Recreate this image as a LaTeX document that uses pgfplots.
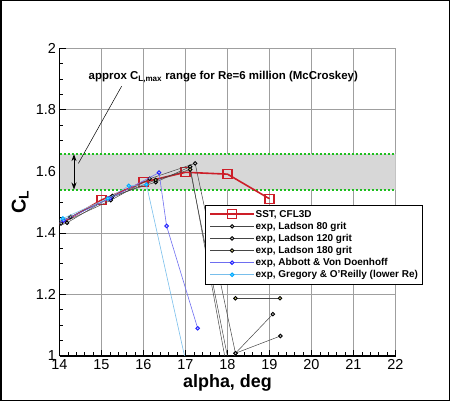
\documentclass[border=0pt]{standalone}
\usepackage{fontspec}
\setmainfont{Liberation Sans}
\usepackage{pgfplots}
\pgfplotsset{compat=1.18}
\usetikzlibrary{arrows.meta}
\definecolor{sstred}{RGB}{205,30,40}
\definecolor{abbott}{RGB}{110,110,240}
\definecolor{abbottm}{RGB}{30,30,255}
\definecolor{greg}{RGB}{120,190,235}
\definecolor{gregm}{RGB}{0,170,255}
\definecolor{bandgray}{RGB}{215,215,215}
\definecolor{dotgreen}{RGB}{30,190,30}
\definecolor{ladline}{RGB}{70,70,70}
\begin{document}
\begin{tikzpicture}
\path[use as bounding box] (0,0) rectangle (450bp,401bp);
\draw[line width=1.5bp] (0.75bp,0.75bp) rectangle (449.25bp,400.25bp);
\begin{axis}[
  at={(59.5bp,45bp)}, anchor=south west,
  scale only axis, width=336bp, height=307.7bp,
  xmin=14, xmax=22, ymin=1, ymax=2,
  xtick={14,15,16,17,18,19,20,21,22},
  ytick={1,1.2,1.4,1.6,1.8,2},
  yticklabels={1,1.2,1.4,1.6,1.8,2},
  minor x tick num=4, minor y tick num=3,
  axis lines=left, axis line style={-, black, line width=1.5bp},
  tick align=inside,
  major tick length=6bp, minor tick length=3.5bp,
  every tick/.style={black, line width=0.8bp},
  grid=major, major grid style={gray!75, line width=0.8bp},
  ticklabel style={font=\fontsize{14.5}{16}\selectfont},
  /pgf/number format/assume math mode=true,
  xlabel={alpha, deg},
  ylabel={C\textsubscript{L}},
  every axis x label/.style={at={(axis description cs:0.5,-0.088)},anchor=center,font=\fontsize{18}{20}\selectfont\bfseries},
  every axis y label/.style={at={(axis description cs:-0.117,0.5)},anchor=center,rotate=90,font=\fontsize{20}{22}\selectfont\bfseries},
  clip marker paths=true,
  legend cell align=left,
  legend image code/.code={\draw[mark repeat=2,mark phase=2] plot coordinates {(0bp,0bp) (22bp,0bp) (44bp,0bp)};},
  legend style={at={(axis cs:17.464,1.491)}, anchor=north west, draw=black, fill=white,
    line width=0.6bp, font=\fontsize{10}{12}\selectfont\bfseries,
    inner xsep=4bp, inner ysep=3bp, row sep=0bp,
    nodes={inner sep=0.8bp, text height=8bp, text depth=2.5bp}},
]
\addplot[fill=bandgray, draw=none, forget plot] coordinates {(14,1.540) (22,1.540) (22,1.657) (14,1.657)} -- cycle;
\addplot[dotgreen, line width=1.6bp, dash pattern=on 2bp off 2bp, forget plot] coordinates {(14,1.657) (22,1.657)};
\addplot[dotgreen, line width=1.6bp, dash pattern=on 2bp off 2bp, forget plot] coordinates {(14,1.540) (22,1.540)};

\addplot[sstred, line width=1.6bp, mark=square, mark size=4.5bp, mark options={line width=1.4bp, fill=none}]
  coordinates {(13,1.35) (15,1.507) (16,1.565) (17,1.597) (18,1.591) (19,1.511)};
\addlegendentry{SST, CFL3D}
\addplot[ladline, line width=0.5bp, mark=*, mark size=1.8bp, mark options={draw=black, fill=gray!40, line width=0.9bp}]
  coordinates {(13.1,1.37) (14.04,1.431) (15.22,1.506) (16.15,1.576) (17.23,1.626) (18.19,1.009) (19.26,1.065)};
\addlegendentry{exp, Ladson 80 grit}
\addplot[ladline, line width=0.5bp, mark=*, mark size=1.8bp, mark options={draw=black, fill=gray!40, line width=0.9bp}]
  coordinates {(13.2,1.38) (14.18,1.433) (15.26,1.52) (16.29,1.565) (17.11,1.615) (18.0,0.95) (18.19,1.009) (19.08,1.136)};
\addlegendentry{exp, Ladson 120 grit}
\addplot[ladline, line width=0.5bp, mark=*, mark size=1.8bp, mark options={draw=black, fill=olive!40, line width=0.9bp}]
  coordinates {(13.3,1.40) (14.26,1.452) (15.24,1.515) (16.29,1.572) (17.11,1.606) (18.07,0.95)};
\addlegendentry{exp, Ladson 180 grit}
\addplot[abbott, line width=0.6bp, mark=*, mark size=1.8bp, mark options={draw=abbottm, fill=abbott!40, line width=0.9bp}]
  coordinates {(13.2,1.38) (14.1,1.44) (15.2,1.512) (16.37,1.596) (16.55,1.4225) (17.29,1.09)};
\addlegendentry{exp, Abbott \& Von Doenhoff}
\addplot[greg, line width=0.6bp, mark=*, mark size=1.8bp, mark options={draw=gregm, fill=gregm!60, line width=0.9bp}]
  coordinates {(13.3,1.39) (14.08,1.447) (15.15,1.512) (15.65,1.553) (16.07,1.557) (17.14,0.9)};
\addlegendentry{exp, Gregory \& O'Reilly (lower Re)}
\addplot[ladline, line width=0.5bp, mark=*, mark size=1.8bp, mark options={draw=black, fill=olive!40, line width=0.9bp}, forget plot]
  coordinates {(18.19,1.1875) (19.25,1.1875)};

\draw[{Stealth[length=7bp,width=5bp]}-{Stealth[length=7bp,width=5bp]}, line width=0.8bp] (axis cs:14.345,1.541) -- (axis cs:14.345,1.656);
\draw[line width=0.5bp] (axis cs:15.48,1.877) -- (axis cs:14.45,1.626);
\node[font=\fontsize{11.5}{13}\selectfont\bfseries] at (axis cs:17.9,1.907) {approx C\textsubscript{L,max} range for Re=6 million (McCroskey)};
\end{axis}
\end{tikzpicture}
\end{document}
